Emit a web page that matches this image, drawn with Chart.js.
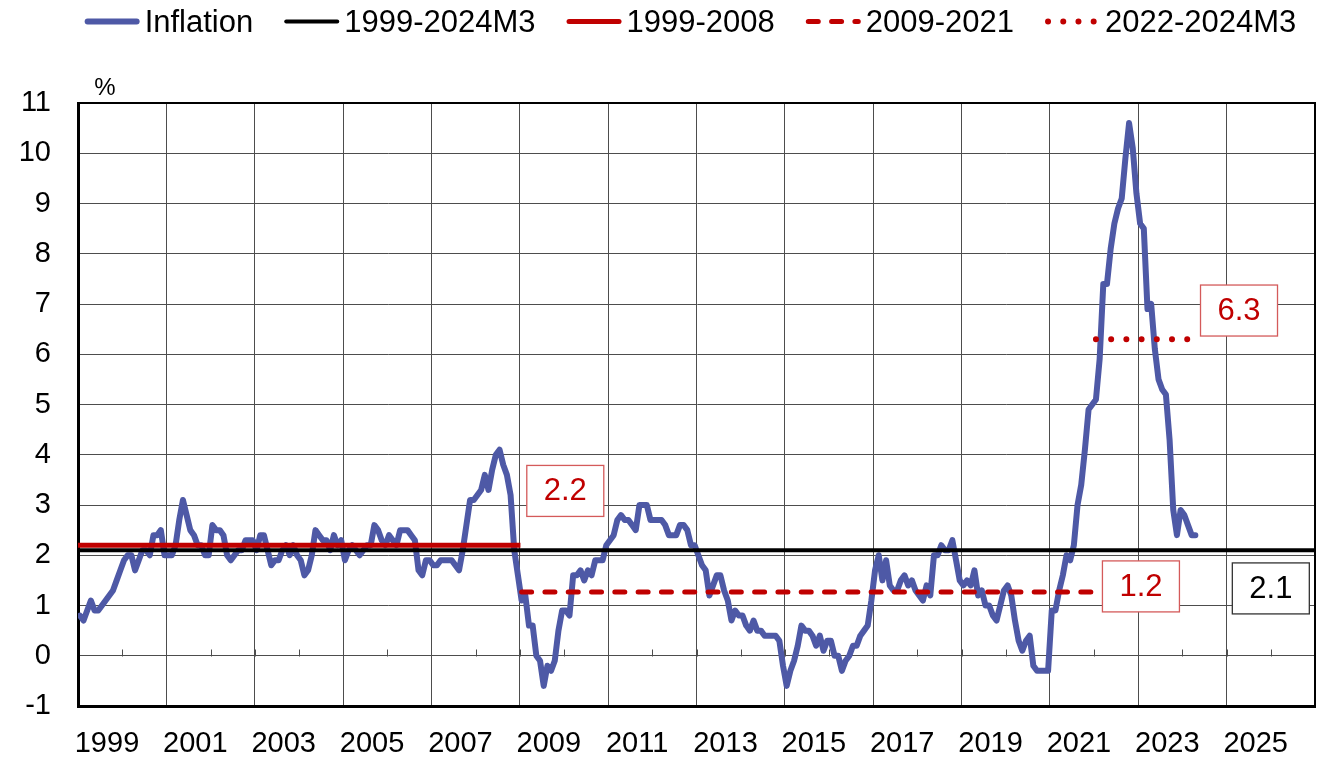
<!DOCTYPE html>
<html>
<head>
<meta charset="utf-8">
<title>Inflation and period averages</title>
<script src="https://cdn.jsdelivr.net/npm/chart.js@4.4.1/dist/chart.umd.min.js"></script>
<style>
  html, body { margin: 0; padding: 0; background: #fff; }
</style>
</head>
<body>
<canvas id="inflationChart" width="1317" height="758"></canvas>
<script>
// monthly annual inflation, %, from 1999-01 onwards
const startYear = 1999;
const inflation = [
  0.8, 0.7, 0.9, 1.1, 0.9, 0.9, 1.0, 1.1, 1.2, 1.3, 1.5, 1.7,      // 1999
  1.9, 2.0, 2.0, 1.7, 1.9, 2.1, 2.1, 2.0, 2.4, 2.4, 2.5, 2.0,      // 2000
  2.0, 2.0, 2.2, 2.7, 3.1, 2.8, 2.5, 2.4, 2.2, 2.2, 2.0, 2.0,      // 2001
  2.6, 2.5, 2.5, 2.4, 2.0, 1.9, 2.0, 2.1, 2.1, 2.3, 2.3, 2.3,      // 2002
  2.1, 2.4, 2.4, 2.1, 1.8, 1.9, 1.9, 2.1, 2.2, 2.0, 2.2, 2.0,      // 2003
  1.9, 1.6, 1.7, 2.0, 2.5, 2.4, 2.3, 2.3, 2.1, 2.4, 2.2, 2.3,      // 2004
  1.9, 2.1, 2.2, 2.1, 2.0, 2.1, 2.2, 2.2, 2.6, 2.5, 2.3, 2.2,      // 2005
  2.4, 2.3, 2.2, 2.5, 2.5, 2.5, 2.4, 2.3, 1.7, 1.6, 1.9, 1.9,      // 2006
  1.8, 1.8, 1.9, 1.9, 1.9, 1.9, 1.8, 1.7, 2.1, 2.6, 3.1, 3.1,      // 2007
  3.2, 3.3, 3.6, 3.3, 3.7, 4.0, 4.1, 3.8, 3.6, 3.2, 2.1, 1.6,      // 2008
  1.1, 1.2, 0.6, 0.6, 0.0, -0.1, -0.6, -0.2, -0.3, -0.1, 0.5, 0.9, // 2009
  0.9, 0.8, 1.6, 1.6, 1.7, 1.5, 1.7, 1.6, 1.9, 1.9, 1.9, 2.2,      // 2010
  2.3, 2.4, 2.7, 2.8, 2.7, 2.7, 2.6, 2.5, 3.0, 3.0, 3.0, 2.7,      // 2011
  2.7, 2.7, 2.7, 2.6, 2.4, 2.4, 2.4, 2.6, 2.6, 2.5, 2.2, 2.2,      // 2012
  2.0, 1.8, 1.7, 1.2, 1.4, 1.6, 1.6, 1.3, 1.1, 0.7, 0.9, 0.8,      // 2013
  0.8, 0.6, 0.5, 0.7, 0.5, 0.5, 0.4, 0.4, 0.4, 0.4, 0.3, -0.2,     // 2014
  -0.6, -0.3, -0.1, 0.2, 0.6, 0.5, 0.5, 0.4, 0.2, 0.4, 0.1, 0.3,   // 2015
  0.3, 0.0, 0.0, -0.3, -0.1, 0.0, 0.2, 0.2, 0.4, 0.5, 0.6, 1.1,    // 2016
  1.7, 2.0, 1.5, 1.9, 1.4, 1.3, 1.3, 1.5, 1.6, 1.4, 1.5, 1.3,      // 2017
  1.2, 1.1, 1.4, 1.2, 2.0, 2.0, 2.2, 2.1, 2.1, 2.3, 1.9, 1.5,      // 2018
  1.4, 1.5, 1.4, 1.7, 1.2, 1.3, 1.0, 1.0, 0.8, 0.7, 1.0, 1.3,      // 2019
  1.4, 1.2, 0.7, 0.3, 0.1, 0.3, 0.4, -0.2, -0.3, -0.3, -0.3, -0.3, // 2020
  0.9, 0.9, 1.3, 1.6, 2.0, 1.9, 2.2, 3.0, 3.4, 4.1, 4.9, 5.0,      // 2021
  5.1, 5.9, 7.4, 7.4, 8.1, 8.6, 8.9, 9.1, 9.9, 10.6, 10.1, 9.2,    // 2022
  8.6, 8.5, 6.9, 7.0, 6.1, 5.5, 5.3, 5.2, 4.3, 2.9, 2.4, 2.9,      // 2023
  2.8, 2.6, 2.4, 2.4                                               // 2024
];

// period averages
const periodNames = ['1999-2024M3', '1999-2008', '2009-2021', '2022-2024M3'];
const periodFrom = ['1999-01', '1999-01', '2009-01', '2022-01'];
const periodTo = ['2024-03', '2008-12', '2021-12', '2024-03'];
const periodMeans = [2.1, 2.2, 1.27, 6.3];
const meanLabels = ['2.1', '2.2', '1.2', '6.3'];

// axes
const xMin = 1999, xMax = 2027;
const yearLabels = ['1999', '2001', '2003', '2005', '2007', '2009', '2011',
  '2013', '2015', '2017', '2019', '2021', '2023', '2025'];
const yMin = -1, yMax = 11;

const blue = '#4e59a6';
const red = '#c00000';
const gridColor = '#4d4d4d';
const fontFamily = '"Liberation Sans", Arial, sans-serif';

// where the value boxes sit, in axis units (same order as meanLabels)
const noteAt = [
  { x: 2026.0, y: 1.34, color: '#000', border: '#333' },
  { x: 2010.03, y: 3.28, color: red, border: '#d45a5a' },
  { x: 2023.06, y: 1.38, color: red, border: '#d45a5a' },
  { x: 2025.28, y: 6.87, color: red, border: '#d45a5a' }
];

function monthX(ym) {
  const [yr, mo] = ym.split('-').map(Number);
  return yr + (mo - 0.5) / 12;
}

const inflationPoints = inflation.map((v, i) => ({ x: startYear + (i + 0.5) / 12, y: v }));

const meanStyles = [
  { borderColor: '#000', borderWidth: 4, borderCapStyle: 'butt', borderDash: [] },
  { borderColor: red, borderWidth: 5, borderCapStyle: 'square', borderDash: [] },
  { borderColor: red, borderWidth: 5, borderCapStyle: 'round', borderDash: [10, 13.3] },
  { borderColor: red, borderWidth: 6, borderCapStyle: 'round', borderDash: [0.01, 15.2] }
];

const meanSets = periodNames.map((name, i) => {
  // the overall mean runs across the whole plot, as in the original
  const from = i === 0 ? xMin : monthX(periodFrom[i]);
  const to = i === 0 ? xMax : monthX(periodTo[i]);
  return Object.assign({
    label: name,
    data: [{ x: from, y: periodMeans[i] }, { x: to, y: periodMeans[i] }],
    pointRadius: 0,
    fill: false,
    order: 4 - i
  }, meanStyles[i]);
});

const topLegend = {
  id: 'topLegend',
  afterDraw(chart) {
    const ctx = chart.ctx;
    const a = chart.chartArea;
    ctx.save();
    ctx.font = '31px ' + fontFamily;
    const sample = 55, gapText = 5, gapItem = 31;
    const items = chart.data.datasets.map(ds => ({ ds, w: ctx.measureText(ds.label).width }));
    const total = items.reduce((s, it) => s + sample + gapText + it.w, 0) + gapItem * (items.length - 1);
    let x = (a.left + a.right) / 2 - total / 2 - 6;
    items.forEach(({ ds, w }) => {
      const lw = ds.borderWidth;
      ctx.beginPath();
      ctx.strokeStyle = ds.borderColor;
      ctx.lineWidth = lw;
      ctx.lineCap = 'round';
      ctx.setLineDash(ds.borderDash || []);
      ctx.moveTo(x + lw / 2, 21.5);
      ctx.lineTo(x + sample - lw / 2, 21.5);
      ctx.stroke();
      ctx.setLineDash([]);
      ctx.fillStyle = '#000';
      ctx.textAlign = 'left';
      ctx.textBaseline = 'alphabetic';
      ctx.fillText(ds.label, x + sample + gapText, 32);
      x += sample + gapText + w + gapItem;
    });
    ctx.restore();
  }
};

const frame = {
  id: 'frame',
  beforeDatasetsDraw(chart) {
    const { ctx, chartArea: a, scales: { x, y } } = chart;
    ctx.save();
    // short yearly tick marks standing on the zero line
    const y0 = Math.round(y.getPixelForValue(0)) + 0.5;
    ctx.strokeStyle = gridColor;
    ctx.lineWidth = 1;
    x.ticks.forEach(t => {
      if (t.value <= xMin || t.value >= xMax) return;
      const px = Math.round(x.getPixelForValue(t.value)) + 0.5;
      ctx.beginPath();
      ctx.moveTo(px, y0);
      ctx.lineTo(px, y0 - 7);
      ctx.stroke();
    });
    ctx.strokeStyle = '#000';
    ctx.lineWidth = 2;
    ctx.beginPath();
    ctx.moveTo(a.left, a.top);
    ctx.lineTo(a.right, a.top);
    ctx.lineTo(a.right, a.bottom);
    ctx.stroke();
    ctx.restore();
  },
  afterDatasetsDraw(chart) {
    const { ctx, scales: { x, y } } = chart;
    ctx.save();
    noteAt.forEach((n, i) => {
      const cx = x.getPixelForValue(n.x);
      const cy = y.getPixelForValue(n.y);
      const w = 77, h = 51;
      ctx.fillStyle = '#fff';
      ctx.fillRect(cx - w / 2, cy - h / 2, w, h);
      ctx.strokeStyle = n.border;
      ctx.lineWidth = 1.3;
      ctx.strokeRect(cx - w / 2, cy - h / 2, w, h);
      ctx.fillStyle = n.color;
      ctx.font = '31px ' + fontFamily;
      ctx.textAlign = 'center';
      ctx.textBaseline = 'middle';
      ctx.fillText(meanLabels[i], cx, cy + 1);
    });
    ctx.restore();
  },
  afterDraw(chart) {
    const { ctx, chartArea: a } = chart;
    ctx.save();
    ctx.fillStyle = '#000';
    ctx.font = '24px ' + fontFamily;
    ctx.textAlign = 'center';
    ctx.textBaseline = 'alphabetic';
    ctx.fillText('%', a.left + 27, a.top - 8);
    ctx.restore();
  }
};

Chart.defaults.font.family = fontFamily;

const ctx = document.getElementById('inflationChart').getContext('2d');
new Chart(ctx, {
  type: 'line',
  data: {
    datasets: [{
      label: 'Inflation',
      data: inflationPoints,
      borderColor: blue,
      borderWidth: 6,
      borderJoinStyle: 'round',
      borderCapStyle: 'round',
      pointRadius: 0,
      fill: false,
      order: 5
    }].concat(meanSets)
  },
  options: {
    responsive: false,
    animation: false,
    events: [],
    layout: { padding: { top: 103, right: 2, bottom: 0, left: 0 } },
    plugins: {
      legend: { display: false },
      tooltip: { enabled: false }
    },
    scales: {
      x: {
        type: 'linear',
        min: xMin,
        max: xMax,
        afterFit(scale) { scale.height = 52; },
        grid: {
          color: c => (c.tick && Math.abs(c.tick.value % 2) === 1) ? gridColor : 'rgba(0,0,0,0)',
          lineWidth: 1,
          drawTicks: false
        },
        border: { color: '#000', width: 3 },
        ticks: {
          stepSize: 1,
          autoSkip: false,
          maxRotation: 0,
          minRotation: 0,
          padding: 0,
          labelOffset: 29,
          color: '#000',
          font: { size: 29, lineHeight: 2.6 },
          callback: v => yearLabels.includes(String(v)) ? String(v) : ''
        }
      },
      y: {
        min: yMin,
        max: yMax,
        afterFit(scale) { scale.width = 78; },
        grid: { color: gridColor, lineWidth: 1, drawTicks: false },
        border: { color: '#000', width: 3 },
        ticks: {
          stepSize: 1,
          padding: 27,
          color: '#000',
          font: { size: 29 }
        }
      }
    }
  },
  plugins: [topLegend, frame]
});
</script>
</body>
</html>
